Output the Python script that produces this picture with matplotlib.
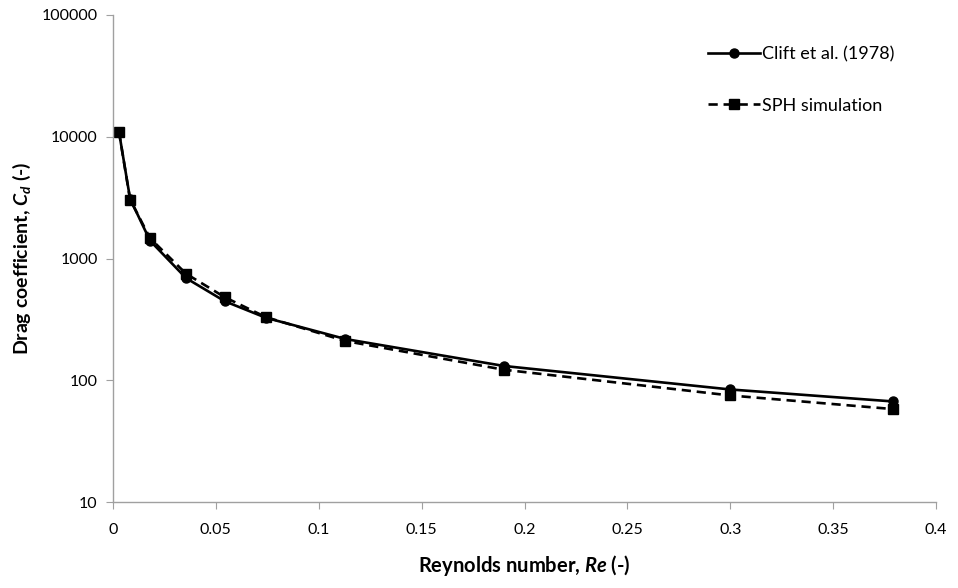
import matplotlib
matplotlib.use('Agg')
import matplotlib.pyplot as plt

# Data
re_clift = [0.0029, 0.0083, 0.018, 0.0355, 0.0544, 0.0743, 0.113, 0.19, 0.3, 0.379]
cd_clift = [11000, 3100, 1400, 690, 445, 326, 218, 131, 84, 67]

re_sph = [0.0029, 0.0083, 0.018, 0.0355, 0.0544, 0.0743, 0.113, 0.19, 0.3, 0.379]
cd_sph = [11000, 3050, 1470, 750, 480, 330, 210, 122, 75, 58]

x_ticks = [0, 0.05, 0.1, 0.15, 0.2, 0.25, 0.3, 0.35, 0.4]
x_tick_labels = ['0', '0.05', '0.1', '0.15', '0.2', '0.25', '0.3', '0.35', '0.4']
y_ticks = [10, 100, 1000, 10000, 100000]
y_tick_labels = ['10', '100', '1000', '10000', '100000']

plt.rcParams['font.family'] = ['Lato', 'DejaVu Sans']
plt.rcParams['mathtext.fontset'] = 'custom'
plt.rcParams['mathtext.it'] = 'Lato:italic:bold'
plt.rcParams['mathtext.rm'] = 'Lato:bold'

fig = plt.figure(figsize=(9.58, 5.88), dpi=100)
ax = fig.add_axes([113 / 958, 1 - 502 / 588, (936 - 113) / 958, (502 - 15) / 588])

ax.plot(re_clift, cd_clift, '-', color='black', lw=1.9, marker='o', ms=6.5,
        label='Clift et al. (1978)')
ax.plot(re_sph, cd_sph, '--', color='black', lw=1.9, marker='s', ms=6.5,
        dashes=(3.5, 2.2), label='SPH simulation')

ax.set_yscale('log')
ax.set_xlim(0, 0.4)
ax.set_ylim(10, 100000)
ax.set_xticks(x_ticks)
ax.set_xticklabels(x_tick_labels)
ax.set_yticks(y_ticks)
ax.set_yticklabels(y_tick_labels)
ax.minorticks_off()

for side in ['top', 'right']:
    ax.spines[side].set_visible(False)
for side in ['left', 'bottom']:
    ax.spines[side].set_color('#a0a0a0')
    ax.spines[side].set_linewidth(1.0)
ax.tick_params(axis='both', direction='out', length=5, color='#a0a0a0',
               labelsize=11.5, labelcolor='black')
ax.tick_params(axis='x', pad=10)
ax.tick_params(axis='y', pad=6)

ax.set_xlabel(r'Reynolds number, $Re$ (-)', fontsize=14.5, fontweight='bold', labelpad=12)
ax.set_ylabel(r'Drag coefficient, $C_d$ (-)', fontsize=14, fontweight='bold', labelpad=6)

ax.legend(loc='upper left', bbox_to_anchor=(0.723, 0.936), frameon=False,
          borderpad=0, borderaxespad=0,
          fontsize=13, labelspacing=1.95, handlelength=2.9, handletextpad=0.1)

fig.savefig('out.png', dpi=100)
